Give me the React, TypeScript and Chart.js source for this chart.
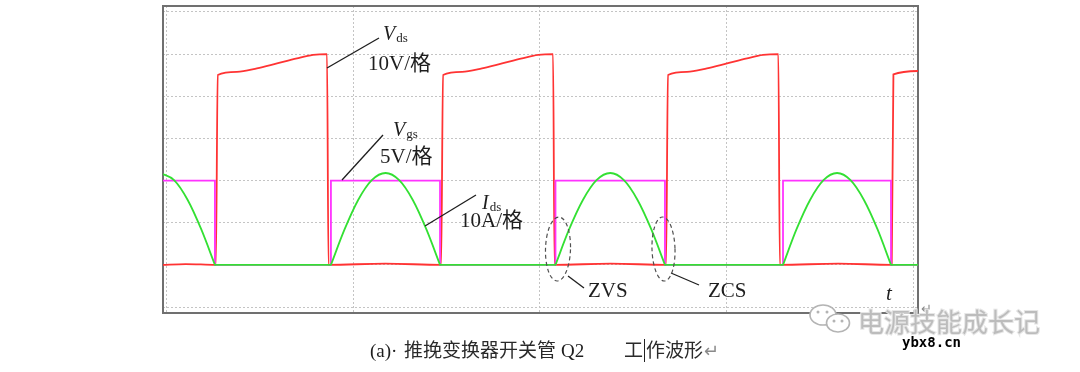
import React, { useEffect, useRef } from 'react';
import { Chart, registerables } from 'chart.js';

Chart.register(...registerables);

// ---- data (time in grid divisions, value in grid divisions; baseline = 1) ----
const vdsT = [-0.03, 0.1, 0.262, 0.272, 0.375, 0.482, 0.59, 0.697, 0.783, 0.858, 0.866, 1.17, 1.47, 1.48, 1.582, 1.689, 1.797, 1.904, 1.99, 2.07, 2.078, 2.38, 2.676, 2.686, 2.788, 2.895, 3.003, 3.11, 3.196, 3.278, 3.286, 3.6, 3.886, 3.895, 4.04];
const vdsV = [1.0, 1.02, 1.0, 5.505, 5.58, 5.66, 5.78, 5.9, 5.98, 6.0, 1.0, 1.03, 1.0, 5.505, 5.58, 5.66, 5.78, 5.9, 5.98, 6.0, 1.0, 1.03, 1.0, 5.505, 5.58, 5.66, 5.78, 5.9, 5.98, 6.0, 1.0, 1.03, 1.0, 5.52, 5.6];

const vgsT = [-0.03, 0.257, 0.257, 0.879, 0.879, 1.464, 1.464, 2.083, 2.083, 2.67, 2.67, 3.303, 3.303, 3.882, 3.882, 4.04];
const vgsV = [3, 3, 1, 1, 3, 3, 1, 1, 3, 3, 1, 1, 3, 3, 1, 1];

const idsT = [-0.036, 0.038, 0.111, 0.184, 0.257, 0.257, 0.257, 0.879, 0.879, 0.879, 0.952, 1.025, 1.098, 1.172, 1.245, 1.318, 1.391, 1.464, 1.464, 1.464, 2.083, 2.083, 2.083, 2.156, 2.23, 2.303, 2.377, 2.45, 2.523, 2.597, 2.67, 2.67, 2.67, 3.303, 3.303, 3.303, 3.375, 3.448, 3.52, 3.593, 3.665, 3.737, 3.81, 3.882, 3.882, 3.882, 4.04];
const idsV = [3.18, 3.01, 2.54, 1.84, 1.0, null, 1.0, 1.0, null, 1.0, 1.84, 2.54, 3.01, 3.18, 3.01, 2.54, 1.84, 1.0, null, 1.0, 1.0, null, 1.0, 1.84, 2.54, 3.01, 3.18, 3.01, 2.54, 1.84, 1.0, null, 1.0, 1.0, null, 1.0, 1.84, 2.54, 3.01, 3.18, 3.01, 2.54, 1.84, 1.0, null, 1.0, 1.0];

const xRange = [-0.0214, 4.0268];
const yRange = [-0.142, 7.142];

const SERIF = "'Liberation Serif', 'Noto Sans CJK SC', serif";
const CJK = "'Noto Sans CJK SC', 'Liberation Serif', sans-serif";

const zip = (t: number[], v: (number | null)[]) => t.map((x, i) => ({ x, y: v[i] }));

const framePlugin = {
  id: 'frame',
  beforeDatasetsDraw(chart: any) {
    const { ctx, chartArea: a } = chart;
    ctx.save();
    ctx.strokeStyle = '#707070';
    ctx.lineWidth = 2;
    ctx.strokeRect(a.left, a.top, a.right - a.left, a.bottom - a.top);
    ctx.restore();
  },
};

function seg(ctx: CanvasRenderingContext2D, x1: number, y1: number, x2: number, y2: number) {
  ctx.beginPath();
  ctx.moveTo(x1, y1);
  ctx.lineTo(x2, y2);
  ctx.stroke();
}

function txt(ctx: CanvasRenderingContext2D, s: string, x: number, y: number, size: number, italic = false, family = SERIF, color = '#1e1e1e') {
  ctx.font = `${italic ? 'italic ' : ''}${size}px ${family}`;
  ctx.fillStyle = color;
  ctx.textBaseline = 'alphabetic';
  ctx.textAlign = 'left';
  ctx.fillText(s, x, y);
  return ctx.measureText(s).width;
}

function symbol(ctx: CanvasRenderingContext2D, main: string, sub: string, x: number, y: number) {
  const w = txt(ctx, main, x, y, 20, true);
  txt(ctx, sub, x + w + 1, y + 2, 13);
}

function ellipse(ctx: CanvasRenderingContext2D, cx: number, cy: number, rx: number, ry: number, rot: number) {
  ctx.save();
  ctx.setLineDash([4, 3]);
  ctx.strokeStyle = '#505050';
  ctx.lineWidth = 1.2;
  ctx.beginPath();
  ctx.ellipse(cx, cy, rx, ry, rot, 0, Math.PI * 2);
  ctx.stroke();
  ctx.restore();
}

const annotationPlugin = {
  id: 'annotations',
  afterDraw(chart: any) {
    const ctx: CanvasRenderingContext2D = chart.ctx;
    ctx.save();
    ctx.strokeStyle = '#1e1e1e';
    ctx.lineWidth = 1.3;
    // leader lines
    seg(ctx, 327, 68, 379, 38);
    seg(ctx, 342, 180, 383, 135);
    seg(ctx, 425, 226, 476, 195);
    seg(ctx, 568, 276, 584, 288);
    seg(ctx, 671, 273, 699, 285);

    symbol(ctx, 'V', 'ds', 383, 40);
    txt(ctx, '10V/格', 368, 70, 21);
    symbol(ctx, 'V', 'gs', 393, 136);
    txt(ctx, '5V/格', 380, 163, 21);
    symbol(ctx, 'I', 'ds', 482, 209);
    txt(ctx, '10A/格', 460, 227, 21);

    ellipse(ctx, 558, 249, 12.5, 32, 0.03);
    ellipse(ctx, 663.5, 249, 11.5, 32, -0.03);
    txt(ctx, 'ZVS', 588, 297, 21);
    txt(ctx, 'ZCS', 708, 297, 21);
    txt(ctx, 't', 886, 300, 21, true);
    txt(ctx, '↵', 921, 313, 13, false, SERIF, '#8a8a8a');

    // caption
    txt(ctx, '(a)·', 370, 357, 19);
    txt(ctx, '推挽变换器开关管', 404, 357, 19, false, CJK, '#2a2a2a');
    txt(ctx, 'Q2', 561, 357, 19);
    txt(ctx, '工', 624, 357, 19, false, CJK, '#2a2a2a');
    ctx.strokeStyle = '#222';
    ctx.lineWidth = 1;
    seg(ctx, 644.5, 339, 644.5, 362);
    txt(ctx, '作波形', 646, 357, 19, false, CJK, '#2a2a2a');
    txt(ctx, '↵', 704, 357, 18, false, SERIF, '#8a8a8a');

    // watermark
    ctx.strokeStyle = '#b4b4b4';
    ctx.fillStyle = '#ffffff';
    ctx.lineWidth = 1.6;
    ctx.beginPath();
    ctx.ellipse(823, 315, 13, 10, 0, 0, Math.PI * 2);
    ctx.fill();
    ctx.stroke();
    ctx.beginPath();
    ctx.ellipse(838, 323, 11.5, 9, 0, 0, Math.PI * 2);
    ctx.fill();
    ctx.stroke();
    ctx.fillStyle = '#b4b4b4';
    [[818, 312], [827, 312], [834, 321], [842, 321]].forEach(([x, y]) => {
      ctx.beginPath();
      ctx.arc(x, y, 1.5, 0, Math.PI * 2);
      ctx.fill();
    });
    ctx.font = `26px ${CJK}`;
    ctx.lineWidth = 2;
    ctx.strokeStyle = '#e6e6e6';
    ctx.strokeText('电源技能成长记', 858, 332);
    txt(ctx, '电源技能成长记', 858, 332, 26, false, CJK, '#bcbcbc');
    ctx.font = `bold 14px 'DejaVu Sans Mono', monospace`;
    ctx.fillStyle = '#000';
    ctx.fillText('ybx8.cn', 902, 347);
    ctx.restore();
  },
};

export default function App() {
  const ref = useRef<HTMLCanvasElement>(null);
  useEffect(() => {
    const canvas = ref.current!;
    const common = { showLine: true, pointRadius: 0, pointHoverRadius: 0, borderWidth: 1.8, fill: false };
    const chart = new Chart(canvas, {
      type: 'scatter',
      data: {
        datasets: [
          { ...common, label: 'Ids', data: zip(idsT, idsV), borderColor: '#33e033', cubicInterpolationMode: 'monotone', borderCapStyle: 'round', order: 0 },
          { ...common, label: 'Vgs', data: zip(vgsT, vgsV), borderColor: '#ff33ff', tension: 0, order: 1 },
          { ...common, label: 'Vds', data: zip(vdsT, vdsV), borderColor: '#ff3333', cubicInterpolationMode: 'monotone', order: 2 },
        ] as any,
      },
      options: {
        animation: false,
        responsive: false,
        devicePixelRatio: 1,
        spanGaps: false,
        layout: { padding: { left: 163, top: 6, right: 162, bottom: 59 } },
        plugins: { legend: { display: false }, tooltip: { enabled: false } },
        scales: {
          x: {
            type: 'linear',
            min: xRange[0],
            max: xRange[1],
            ticks: { display: false, stepSize: 1, includeBounds: false },
            grid: { color: '#c4c4c4', lineWidth: 1, drawTicks: false },
            border: { display: false, dash: [2, 2] },
          },
          y: {
            type: 'linear',
            min: yRange[0],
            max: yRange[1],
            ticks: { display: false, stepSize: 1, includeBounds: false },
            grid: { color: '#c4c4c4', lineWidth: 1, drawTicks: false },
            border: { display: false, dash: [2, 2] },
          },
        },
      } as any,
      plugins: [framePlugin, annotationPlugin],
    });
    return () => chart.destroy();
  }, []);
  return (
    <div style={{ position: 'absolute', left: 0, top: 0, width: 1080, height: 372, background: '#fff' }}>
      <canvas ref={ref} width={1080} height={372} style={{ display: 'block', width: 1080, height: 372 }} />
    </div>
  );
}
